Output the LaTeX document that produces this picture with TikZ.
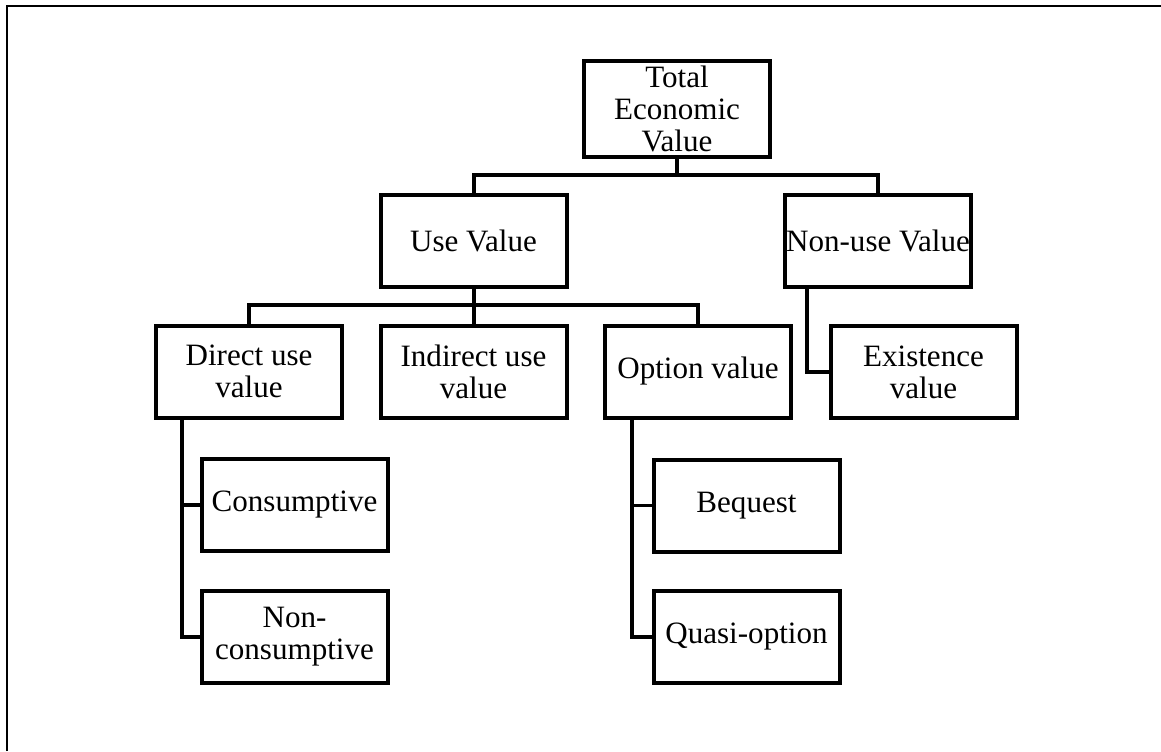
\documentclass[tikz,border=0pt]{standalone}
\usepackage{fontspec}
\setmainfont{Liberation Serif}
\begin{document}
\begin{tikzpicture}[x=0.75pt,y=-0.75pt,
  box/.style={draw=black, line width=3pt, fill=white, minimum width=139.5pt, minimum height=69pt,
    inner sep=0pt, align=center, font=\fontsize{23.3pt}{24pt}\selectfont},
  conn/.style={draw=black, line width=3pt},
  thinconn/.style={draw=black, line width=2.4pt}]
\useasboundingbox (0,0) rectangle (1161,751);
\fill[white] (0,0) rectangle (1161,751);
\draw[line width=1.6pt] (7,751) -- (7,6) -- (1161,6);

\node[box, minimum height=71.5pt] (T) at (677,109) {Total\\Economic\\Value};
\node[box] (U) at (473.5,241) {Use Value};
\node[box] (N) at (878,241) {Non-use Value};
\node[box] (D) at (249,371.5) {Direct use\\value};
\node[box] (I) at (473.5,371.5) {Indirect use\\value};
\node[box] (O) at (698,371.5) {Option value};
\node[box] (E) at (923.5,372) {Existence\\value};
\node[box] (C) at (294.5,505) {Consumptive};
\node[box] (NC) at (294.5,636.5) {Non-\\consumptive};
\node[box] (B) at (746.5,505.5) {Bequest};
\node[box] (Q) at (746.5,636.5) {Quasi-option};

\coordinate (b1) at (677,175);
\coordinate (b2) at (475,305);

\draw[conn] (T.south) -- (b1);
\draw[conn] (U.north) |- (b1) -| (N.north);
\draw[conn] (U.south) -- (I.north);
\draw[conn] (D.north) |- (b2) -| (O.north);

\draw[conn] ([xshift=18]N.south west) |- (E.west);
\draw[conn] ([xshift=21]D.south west) |- (NC.west);
\draw[thinconn] ([xshift=21]D.south west) |- (C.west);
\draw[conn] ([xshift=22]O.south west) |- (Q.west);
\draw[thinconn] ([xshift=22]O.south west) |- (B.west);
\end{tikzpicture}
\end{document}
